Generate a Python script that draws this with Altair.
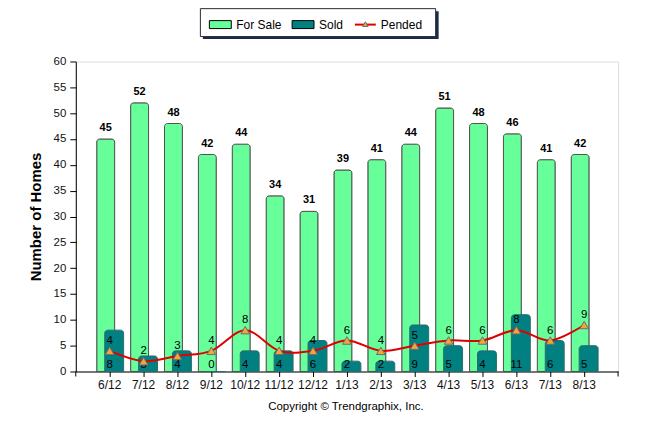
import altair as alt
import pandas as pd

months = ["6/12", "7/12", "8/12", "9/12", "10/12", "11/12", "12/12", "1/13",
          "2/13", "3/13", "4/13", "5/13", "6/13", "7/13", "8/13"]
for_sale = [45, 52, 48, 42, 44, 34, 31, 39, 41, 44, 51, 48, 46, 41, 42]
sold = [8, 3, 4, 0, 4, 4, 6, 2, 2, 9, 5, 4, 11, 6, 5]
pended = [4, 2, 3, 4, 8, 4, 4, 6, 4, 5, 6, 6, 8, 6, 9]

legend_names = ["For Sale", "Sold", "Pended"]
copyright_text = "Copyright \u00a9 Trendgraphix, Inc."

GREEN = "#66ff99"
TEAL = "#008080"
RED = "#e00000"
ORANGE = "#f8a530"
FONT = "Liberation Sans"

df = pd.DataFrame({"month": months, "for_sale": for_sale, "sold": sold, "pended": pended,
                   "zero": [0] * len(months)})

W, H = 544, 311

xaxis = alt.Axis(labelAngle=0, labelFontSize=12, labelColor="#111",
                 tickColor="#000", domainColor="#000", tickSize=5,
                 labelPadding=3, grid=False, labelFont=FONT, labelOverlap=False)
xenc = alt.X("month:N", sort=months, title=None,
             scale=alt.Scale(type="band", paddingInner=0, paddingOuter=0.5),
             axis=xaxis)
yscale = alt.Scale(domain=[0, 60], nice=False)
yaxis = alt.Axis(values=list(range(0, 61, 5)), title="Number of Homes",
                 titleFontSize=15, titleFontWeight="bold", titleFont=FONT,
                 titleColor="#000", labelFontSize=11.5, labelColor="#111",
                 labelFont=FONT, tickSize=6, labelPadding=4, titlePadding=10,
                 grid=False, domainColor="#000", tickColor="#000",
                 labelOverlap=False)


def Y(field):
    return alt.Y(field, scale=yscale, axis=yaxis, title="Number of Homes")


base = alt.Chart(df).encode(x=xenc)

bars_fs = base.mark_bar(width=18, xOffset=-4, fill=GREEN, stroke="#505050", strokeWidth=1,
                        cornerRadiusTopLeft=3, cornerRadiusTopRight=3).encode(
    y=Y("for_sale:Q"))

bars_sold = base.mark_bar(width=19, xOffset=4.5, fill=TEAL, stroke="#2a6b6b", strokeWidth=1,
                          cornerRadiusTopLeft=3, cornerRadiusTopRight=3).encode(
    y=Y("sold:Q"))

txt_fs = base.mark_text(dx=-4, dy=-8, fontSize=11, fontWeight="bold", font=FONT,
                        baseline="alphabetic", color="#000").encode(
    y=Y("for_sale:Q"), text="for_sale:Q")

txt_sold = base.mark_text(dy=-3.5, fontSize=11.5, font=FONT, baseline="alphabetic",
                          color="#000").encode(
    y=Y("zero:Q"), text="sold:Q")

line = base.mark_line(color=RED, strokeWidth=2, interpolate="cardinal").encode(
    y=Y("pended:Q"))

pts = base.mark_point(shape="triangle-up", filled=True, fill=ORANGE, stroke="#6a6a7a",
                      strokeWidth=1, size=75, opacity=1).encode(
    y=Y("pended:Q"))

txt_p = base.mark_text(dy=-7, fontSize=11.5, font=FONT, baseline="alphabetic",
                       color="#000").encode(
    y=Y("pended:Q"), text="pended:Q")

one = pd.DataFrame({"k": [0]})

# extra end ticks on the x axis
tick_l = alt.Chart(one).mark_rule(color="#000").encode(
    x=alt.value(0), y=alt.value(H), y2=alt.value(H + 5))
tick_r = alt.Chart(one).mark_rule(color="#000").encode(
    x=alt.value(W), y=alt.value(H), y2=alt.value(H + 5))

# legend (manual)
leg_shadow = alt.Chart(one).mark_rect(fill="#1c2b4a").encode(
    x=alt.value(127.5), x2=alt.value(364), y=alt.value(-50.5), y2=alt.value(-22.5))
leg_box = alt.Chart(one).mark_rect(fill="#fff", stroke="#2a2a3a", strokeWidth=1).encode(
    x=alt.value(125), x2=alt.value(361), y=alt.value(-53), y2=alt.value(-25))
leg_g = alt.Chart(one).mark_rect(fill=GREEN, stroke="#000", strokeWidth=1).encode(
    x=alt.value(134), x2=alt.value(156), y=alt.value(-41), y2=alt.value(-33))
leg_t = alt.Chart(one).mark_rect(fill=TEAL, stroke="#000", strokeWidth=1).encode(
    x=alt.value(217), x2=alt.value(239), y=alt.value(-41), y2=alt.value(-33))
leg_l = alt.Chart(one).mark_rule(color=RED, strokeWidth=2).encode(
    x=alt.value(280), x2=alt.value(301), y=alt.value(-37))
leg_p = alt.Chart(one).mark_point(shape="triangle-up", filled=True, fill=ORANGE,
                                   stroke="#6a6a7a", strokeWidth=1, size=30, opacity=1).encode(
    x=alt.value(290.5), y=alt.value(-37.5))
leg_txt1 = alt.Chart(one).mark_text(align="left", baseline="middle", fontSize=12,
                                    font=FONT, color="#000").encode(
    x=alt.value(161), y=alt.value(-36.5), text=alt.value(legend_names[0]))
leg_txt2 = alt.Chart(one).mark_text(align="left", baseline="middle", fontSize=12,
                                    font=FONT, color="#000").encode(
    x=alt.value(244), y=alt.value(-36.5), text=alt.value(legend_names[1]))
leg_txt3 = alt.Chart(one).mark_text(align="left", baseline="middle", fontSize=12,
                                    font=FONT, color="#000").encode(
    x=alt.value(306), y=alt.value(-36.5), text=alt.value(legend_names[2]))

copy_txt = alt.Chart(one).mark_text(
    align="center", baseline="middle", fontSize=11.5, font=FONT, color="#000").encode(
    x=alt.value(271), y=alt.value(347), text=alt.value(copyright_text))

chart = alt.layer(
    bars_fs, bars_sold, txt_fs, txt_sold, line, pts, txt_p, tick_l, tick_r,
    leg_shadow, leg_box, leg_g, leg_t, leg_l, leg_p, leg_txt1, leg_txt2, leg_txt3, copy_txt
).properties(
    width=W, height=H,
    autosize=alt.AutoSizeParams(type="none"),
    padding={"left": 68, "top": 53, "right": 20, "bottom": 50},
    background="#ffffff"
).configure_view(strokeWidth=0, stroke="transparent").configure(font=FONT)

chart.save("out.html", embed_options={"renderer": "svg", "actions": False})
